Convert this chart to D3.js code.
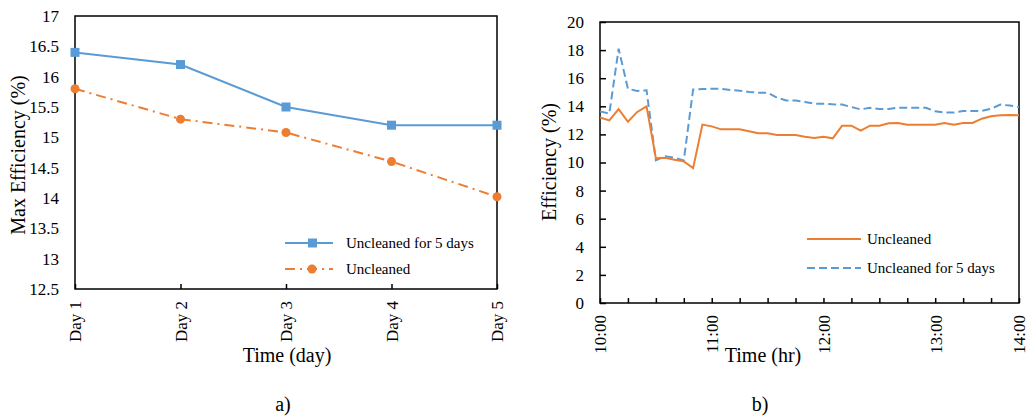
<!DOCTYPE html>
<html lang="en">
<head>
<meta charset="UTF-8">
<title>Efficiency</title>
<style>
  body { margin: 0; background: #fff; }
  svg text { font-family: "Liberation Serif", "Times New Roman", serif; fill: #000; }
</style>
</head>
<body>
<script src="https://d3js.org/d3.v7.min.js"></script>
<script>
// chart a) data
var days = ["Day 1", "Day 2", "Day 3", "Day 4", "Day 5"];
var maxEff5 = [16.4, 16.2, 15.5, 15.2, 15.2];       // uncleaned for 5 days
var maxEffUn = [15.8, 15.3, 15.08, 14.6, 14.02];    // uncleaned
var yTicksA = [12.5, 13, 13.5, 14, 14.5, 15, 15.5, 16, 16.5, 17];

// chart b) data
var times = ["10:00", "10:05", "10:10", "10:15", "10:20", "10:25", "10:30", "10:35", "10:40", "10:45",
  "10:50", "10:55", "11:00", "11:05", "11:10", "11:15", "11:20", "11:25", "11:30", "11:35",
  "11:40", "11:45", "11:50", "11:55", "12:00", "12:05", "12:10", "12:15", "12:20", "12:25",
  "12:30", "12:35", "12:40", "12:45", "12:50", "12:55", "13:00", "13:05", "13:10", "13:15",
  "13:20", "13:25", "13:30", "13:35", "13:40", "14:00"];
var effUn = [13.2, 13.0, 13.8, 12.9, 13.6, 14.0, 10.3, 10.34, 10.2, 10.08,
  9.6, 12.7, 12.57, 12.36, 12.36, 12.36, 12.22, 12.08, 12.08, 11.96,
  11.96, 11.96, 11.84, 11.74, 11.84, 11.72, 12.62, 12.62, 12.27, 12.62,
  12.62, 12.79, 12.81, 12.69, 12.69, 12.69, 12.69, 12.81, 12.69, 12.81,
  12.81, 13.12, 13.29, 13.36, 13.38, 13.36];
var eff5 = [13.64, 13.48, 18.1, 15.25, 15.09, 15.14, 10.15, 10.44, 10.34, 10.15,
  15.2, 15.23, 15.25, 15.25, 15.16, 15.11, 15.02, 14.97, 14.97, 14.61,
  14.42, 14.42, 14.31, 14.19, 14.19, 14.14, 14.12, 13.95, 13.78, 13.9,
  13.81, 13.81, 13.9, 13.9, 13.9, 13.9, 13.64, 13.55, 13.55, 13.67,
  13.67, 13.67, 13.83, 14.12, 14.05, 13.95];
var xLabelsB = ["10:00", "11:00", "12:00", "13:00", "14:00"];
var yTicksB = [0, 2, 4, 6, 8, 10, 12, 14, 16, 18, 20];

var blue = "#5b9bd5", orange = "#ed7d31";
var serif = "'Liberation Serif', 'Times New Roman', serif";

var svg = d3.select("body").append("svg").attr("width", 1029).attr("height", 418);

// axis text in serif, like the rest
function styleAxis(g, rotate) {
  g.attr("font-family", serif).attr("font-size", 17);
  g.select(".domain").remove();
  g.selectAll("line").attr("stroke", "#000").attr("stroke-width", 1.5);
  g.selectAll("text").attr("font-family", serif).attr("font-size", 17).attr("fill", "#000");
  if (rotate) {
    g.selectAll("text")
      .attr("transform", "rotate(-90)")
      .attr("x", -12).attr("y", 0).attr("dy", "0.35em")
      .attr("text-anchor", "end");
  }
}

// ---------- chart a ----------
var xa = d3.scalePoint().domain(days).range([75, 497]);
var ya = d3.scaleLinear().domain([12.5, 17]).range([289, 16]);

var ga = svg.append("g");
ga.append("g")
  .attr("transform", "translate(0,289)")
  .call(d3.axisBottom(xa).tickSizeInner(-5).tickSizeOuter(0).tickPadding(0))
  .call(styleAxis, true);
ga.append("g")
  .attr("transform", "translate(75,0)")
  .call(d3.axisLeft(ya).tickValues(yTicksA).tickSize(0).tickPadding(16).tickFormat(d3.format("")))
  .call(styleAxis, false);
ga.append("rect").attr("x", 75).attr("y", 16).attr("width", 422).attr("height", 273)
  .attr("fill", "none").attr("stroke", "#000").attr("stroke-width", 1.5);

var lineA = d3.line().x(function (d, i) { return xa(days[i]); }).y(function (d) { return ya(d); });
ga.append("path").attr("d", lineA(maxEffUn)).attr("fill", "none").attr("stroke", orange)
  .attr("stroke-width", 2).attr("stroke-dasharray", "10,5,2,5");
ga.append("path").attr("d", lineA(maxEff5)).attr("fill", "none").attr("stroke", blue).attr("stroke-width", 2);
ga.selectAll("circle.m").data(maxEffUn).enter().append("circle")
  .attr("cx", function (d, i) { return xa(days[i]); }).attr("cy", function (d) { return ya(d); })
  .attr("r", 4.5).attr("fill", orange);
ga.selectAll("rect.m").data(maxEff5).enter().append("rect")
  .attr("x", function (d, i) { return xa(days[i]) - 4.5; }).attr("y", function (d) { return ya(d) - 4.5; })
  .attr("width", 9).attr("height", 9).attr("fill", blue);

// legend a
ga.append("line").attr("x1", 285).attr("x2", 333).attr("y1", 243).attr("y2", 243).attr("stroke", blue).attr("stroke-width", 2);
ga.append("rect").attr("x", 308).attr("y", 238.5).attr("width", 9).attr("height", 9).attr("fill", blue);
ga.append("text").attr("x", 346).attr("y", 243).attr("dy", "0.35em").style("font-size", "15px").text("Uncleaned for 5 days");
ga.append("line").attr("x1", 285).attr("x2", 333).attr("y1", 269).attr("y2", 269).attr("stroke", orange)
  .attr("stroke-width", 2).attr("stroke-dasharray", "10,5,2,5");
ga.append("circle").attr("cx", 312).attr("cy", 269).attr("r", 4.5).attr("fill", orange);
ga.append("text").attr("x", 346).attr("y", 269).attr("dy", "0.35em").style("font-size", "15px").text("Uncleaned");

ga.append("text").attr("transform", "translate(25,155) rotate(-90)").attr("text-anchor", "middle")
  .style("font-size", "20px").text("Max Efficiency (%)");
ga.append("text").attr("x", 287).attr("y", 362).attr("text-anchor", "middle")
  .style("font-size", "20px").text("Time (day)");
ga.append("text").attr("x", 283).attr("y", 411).attr("text-anchor", "middle")
  .style("font-size", "20px").text("a)");

// ---------- chart b ----------
var xb = d3.scalePoint().domain(times).range([600, 1019]);
var yb = d3.scaleLinear().domain([0, 20]).range([303, 22]);

var gb = svg.append("g");
gb.append("g")
  .attr("transform", "translate(0,303)")
  .call(d3.axisBottom(xb)
    .tickValues(times.filter(function (d, i) { return i % 3 === 0; }))
    .tickSizeInner(-5).tickSizeOuter(0).tickPadding(0)
    .tickFormat(function (d) { return xLabelsB.indexOf(d) >= 0 ? d : ""; }))
  .call(styleAxis, true);
gb.append("g")
  .attr("transform", "translate(600,0)")
  .call(d3.axisLeft(yb).tickValues(yTicksB).tickSizeInner(-6).tickSizeOuter(0).tickPadding(16))
  .call(styleAxis, false);
gb.append("rect").attr("x", 600).attr("y", 22).attr("width", 419).attr("height", 281)
  .attr("fill", "none").attr("stroke", "#000").attr("stroke-width", 1.5);

var lineB = d3.line().x(function (d, i) { return xb(times[i]); }).y(function (d) { return yb(d); });
gb.append("path").attr("d", lineB(eff5)).attr("fill", "none").attr("stroke", blue)
  .attr("stroke-width", 2).attr("stroke-dasharray", "8,4");
gb.append("path").attr("d", lineB(effUn)).attr("fill", "none").attr("stroke", orange).attr("stroke-width", 2);

// legend b
gb.append("line").attr("x1", 807).attr("x2", 861).attr("y1", 239).attr("y2", 239).attr("stroke", orange).attr("stroke-width", 2);
gb.append("text").attr("x", 867).attr("y", 239).attr("dy", "0.35em").style("font-size", "15px").text("Uncleaned");
gb.append("line").attr("x1", 807).attr("x2", 861).attr("y1", 268).attr("y2", 268).attr("stroke", blue)
  .attr("stroke-width", 2).attr("stroke-dasharray", "8,4");
gb.append("text").attr("x", 867).attr("y", 268).attr("dy", "0.35em").style("font-size", "15px").text("Uncleaned for 5 days");

gb.append("text").attr("transform", "translate(556,162) rotate(-90)").attr("text-anchor", "middle")
  .style("font-size", "20px").text("Efficiency (%)");
gb.append("text").attr("x", 763).attr("y", 362).attr("text-anchor", "middle")
  .style("font-size", "20px").text("Time (hr)");
gb.append("text").attr("x", 760).attr("y", 411).attr("text-anchor", "middle")
  .style("font-size", "20px").text("b)");
</script>
</body>
</html>
